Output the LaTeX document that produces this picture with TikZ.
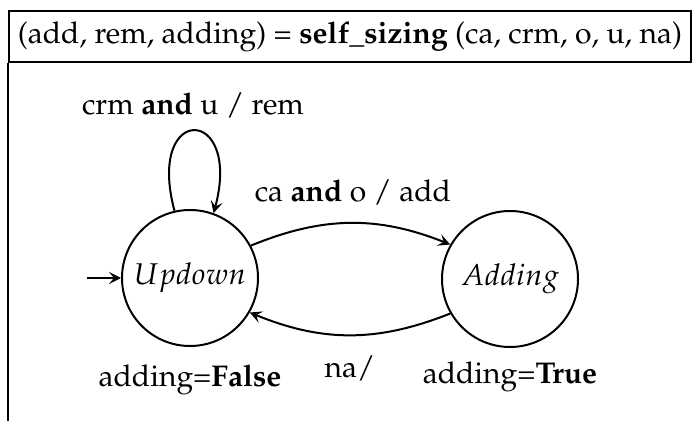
\documentclass[tikz,border=0pt]{standalone}
\usepackage[T1]{fontenc}
\usepackage{mathpazo}
\usepackage{tikz}
\usetikzlibrary{arrows.meta,positioning}

\begin{document}
\begin{tikzpicture}[
  x=1pt, y=1pt,
  font=\fontsize{30}{36}\selectfont,
  mode/.style={draw, circle, line width=2pt, minimum size=136pt, inner sep=0pt},
  trans/.style={-{Stealth[length=12pt,width=12pt,inset=5pt]}, line width=2pt},
  frame/.style={draw, line width=2pt}
]
\useasboundingbox (0,0) rectangle (692,420);
\node[frame, anchor=north west, minimum width=682pt, minimum height=51pt, inner sep=0pt] (title) at (8,410) {(add, rem, adding) = \textbf{self\_sizing} (ca, crm, o, u, na)};
\coordinate (frameend) at (8,-2);
\draw[line width=2pt] (title.south west) -- (frameend);
\node[mode] (updown) at (190,142) {$Updown$};
\node[mode] (adding) at (510,141) {$Adding$};
\coordinate (start) at (87,142);
\node (loopl) at (193,315) {crm \textbf{and} u / rem};
\node (addl) at (353,228) {ca \textbf{and} o / add};
\node (nal) at (350,52) {na/};
\node (falsel) at (190,40) {adding=\textbf{False}};
\node (truel) at (510,43) {adding=\textbf{True}};
\draw[trans] (start) -- (updown);
\draw[trans] (updown.103) .. controls +(105:112) and +(75:112) .. (updown.70);
\draw[trans] (updown.28) to[bend left=22] (adding.150);
\draw[trans] (adding.210) to[bend left=22] (updown.330);
\end{tikzpicture}
\end{document}
